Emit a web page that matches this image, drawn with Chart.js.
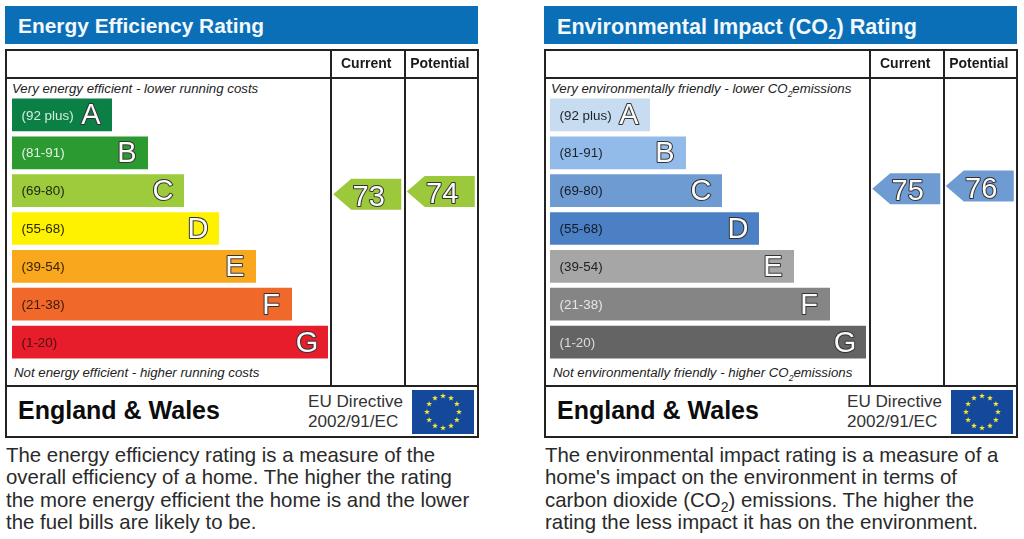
<!DOCTYPE html>
<html>
<head>
<meta charset="utf-8">
<title>EPC ratings</title>
<script src="https://cdn.jsdelivr.net/npm/chart.js@4"></script>
<style>
  html, body { margin: 0; background: #fff; }
  body { width: 1024px; height: 539px; overflow: hidden; position: relative; font-family: "Liberation Sans", Arial, sans-serif; color: #1c1c1c; filter: blur(0.4px); }
  .panel { position: absolute; top: 0; width: 490px; height: 539px; }
  .panel > * { position: absolute; }
  .header { left: 5px; top: 6px; width: 473px; height: 38px; background: #0a6fb7; }
  .title { left: 18px; top: 14px; font-weight: bold; color: #f2f8fc; white-space: nowrap; }
  .title sub { font-size: 15px; line-height: 0; }
  .line { background: #222; }
  .note { font-size: 13.25px; font-style: italic; white-space: nowrap; color: #222; }
  .note sub { font-size: 8.5px; line-height: 0; }
  .country { left: 18px; top: 396px; font-size: 25px; font-weight: bold; color: #0c0c0c; white-space: nowrap; }
  .directive { left: 308px; top: 392px; font-size: 17.1px; line-height: 20px; color: #333; white-space: nowrap; }
  .flag { left: 412px; top: 390px; width: 62px; height: 44px; }
  .blurb { left: 6px; top: 444px; font-size: 20.4px; line-height: 22.3px; color: #2a2a2a; white-space: nowrap; }
  .blurb sub { font-size: 14px; line-height: 0; }
  canvas { position: absolute; }
</style>
</head>
<body>
<script>
const bandLetters = ["A", "B", "C", "D", "E", "F", "G"];
const bandRanges = ["(92 plus)", "(81-91)", "(69-80)", "(55-68)", "(39-54)", "(21-38)", "(1-20)"];
const energyBandLengths = [100, 136, 172, 207, 244, 280, 316];
const co2BandLengths = [100, 136, 172, 209, 244, 280, 316];
const ratingColumns = ["Current", "Potential"];
const energyRatings = [73, 74];
const co2Ratings = [75, 76];

const energyColors = ["#0b8045", "#2b9a31", "#9dcb3c", "#fff200", "#f9a81d", "#f0682a", "#e71d2b"];
const co2Colors = ["#c7dcf1", "#92bbe9", "#6f9bd3", "#4c80c4", "#a6a6a6", "#858585", "#646464"];
const energyRangeText = ["#d8ece0", "#e3f2e3", "#1c2410", "#2a2a00", "#3a2405", "#3f1a08", "#4a0d10"];
const co2RangeText = ["#1c222a", "#1c222a", "#141a22", "#101a2a", "#222", "#e6e6e6", "#dcdcdc"];

// letters and range text sit on top of each bar
const bandLabels = {
  id: "bandLabels",
  afterDatasetsDraw(chart, args, opts) {
    const ctx = chart.ctx;
    chart.getDatasetMeta(0).data.forEach((bar, i) => {
      ctx.save();
      ctx.textBaseline = "middle";
      ctx.textAlign = "left";
      ctx.font = '13.4px "Liberation Sans"';
      ctx.fillStyle = opts.rangeText[i];
      ctx.fillText(bandRanges[i], bar.base + 9.5, bar.y + 1);
      ctx.textAlign = "center";
      ctx.font = '29px "Liberation Sans"';
      ctx.lineJoin = "round";
      ctx.lineWidth = 2;
      ctx.strokeStyle = "#333";
      ctx.strokeText(bandLetters[i], bar.x - 21, bar.y + 1.5);
      ctx.fillStyle = "#fbfbfb";
      ctx.fillText(bandLetters[i], bar.x - 21, bar.y + 1.5);
      ctx.restore();
    });
  },
};

// arrow shaped rating pointers, placed by the point elements
const ratingPointers = {
  id: "ratingPointers",
  afterDatasetsDraw(chart, args, opts) {
    const ctx = chart.ctx;
    const values = chart.data.datasets[0].data;
    chart.getDatasetMeta(0).data.forEach((pt, i) => {
      const l = pt.x - 34.5, r = pt.x + 33.5, h = 15.5;
      ctx.save();
      ctx.fillStyle = opts.color;
      ctx.beginPath();
      ctx.moveTo(l, pt.y);
      ctx.lineTo(l + 18, pt.y - h);
      ctx.lineTo(r, pt.y - h);
      ctx.lineTo(r, pt.y + h);
      ctx.lineTo(l + 18, pt.y + h);
      ctx.closePath();
      ctx.fill();
      ctx.textAlign = "center";
      ctx.textBaseline = "middle";
      ctx.font = '29px "Liberation Sans"';
      ctx.lineJoin = "round";
      ctx.lineWidth = 2;
      ctx.strokeStyle = "#333";
      ctx.strokeText(values[i], pt.x + 1, pt.y + 3.5);
      ctx.fillStyle = "#fbfbfb";
      ctx.fillText(values[i], pt.x + 1, pt.y + 3.5);
      ctx.restore();
    });
  },
};

function addCanvas(panel, left, top, width, height) {
  const c = document.createElement("canvas");
  c.style.left = left + "px";
  c.style.top = top + "px";
  c.style.width = width + "px";
  c.style.height = height + "px";
  c.width = width;
  c.height = height;
  panel.appendChild(c);
  return c;
}

function drawBands(panel, left, lengths, colors, rangeText) {
  new Chart(addCanvas(panel, left, 95.5, 317, 265), {
    type: "bar",
    plugins: [bandLabels],
    data: {
      labels: bandLetters,
      datasets: [{ data: lengths, backgroundColor: colors, barPercentage: 0.865, categoryPercentage: 1 }],
    },
    options: {
      indexAxis: "y",
      responsive: false,
      animation: false,
      events: [],
      layout: { padding: 0 },
      scales: {
        x: { display: false, min: 0, max: 317 },
        y: { display: false },
      },
      plugins: {
        legend: { display: false },
        tooltip: { enabled: false },
        bandLabels: { rangeText: rangeText },
      },
    },
  });
}

function drawRatings(panel, ratings, color) {
  new Chart(addCanvas(panel, 331, 50, 147, 336), {
    type: "line",
    plugins: [ratingPointers],
    data: {
      labels: ratingColumns,
      datasets: [{ data: ratings, showLine: false, pointRadius: 0 }],
    },
    options: {
      responsive: false,
      animation: false,
      events: [],
      layout: { padding: 0 },
      scales: {
        x: {
          position: "top",
          offset: true,
          grid: { display: false },
          border: { display: false },
          afterFit(scale) { scale.height = 28; },
          ticks: { color: "#1a1a1a", font: { family: "Liberation Sans", size: 14, weight: "bold" }, padding: -3, labelOffset: -1.5, maxRotation: 0 },
        },
        y: { display: false, min: 3.8, max: 115 },
      },
      plugins: {
        legend: { display: false },
        tooltip: { enabled: false },
        ratingPointers: { color: color },
      },
    },
  });
}

function rule(panel, left, top, width, height) {
  const d = document.createElement("div");
  d.className = "line";
  d.style.cssText = `left:${left}px;top:${top}px;width:${width}px;height:${height}px`;
  panel.appendChild(d);
}

function text(panel, cls, html, left, top) {
  const d = document.createElement("div");
  d.className = cls;
  d.innerHTML = html;
  if (left !== undefined) d.style.left = left + "px";
  if (top !== undefined) d.style.top = top + "px";
  panel.appendChild(d);
  return d;
}

function euFlag(panel) {
  const NS = "http://www.w3.org/2000/svg";
  const svg = document.createElementNS(NS, "svg");
  svg.setAttribute("class", "flag");
  svg.setAttribute("viewBox", "0 0 62 44");
  const bg = document.createElementNS(NS, "rect");
  bg.setAttribute("width", 62);
  bg.setAttribute("height", 44);
  bg.setAttribute("fill", "#14489b");
  svg.appendChild(bg);
  for (let i = 0; i < 12; i++) {
    const a = (i * Math.PI) / 6;
    const cx = 31 + 16 * Math.sin(a), cy = 22 - 16 * Math.cos(a);
    let pts = "";
    for (let k = 0; k < 10; k++) {
      const r = k % 2 ? 1.3 : 3, b = (k * Math.PI) / 5;
      pts += (cx + r * Math.sin(b)).toFixed(2) + "," + (cy - r * Math.cos(b)).toFixed(2) + " ";
    }
    const star = document.createElementNS(NS, "polygon");
    star.setAttribute("points", pts);
    star.setAttribute("fill", "#f2e33a");
    svg.appendChild(star);
  }
  panel.appendChild(svg);
}

function buildPanel(offset, cfg) {
  const panel = document.createElement("div");
  panel.className = "panel";
  panel.style.left = offset + "px";
  document.body.appendChild(panel);

  const head = document.createElement("div");
  head.className = "header";
  panel.appendChild(head);
  text(panel, "title", cfg.title).style.fontSize = cfg.titleSize + "px";

  rule(panel, 5, 49, 474, 2);
  rule(panel, 5, 436, 474, 2);
  rule(panel, 5, 49, 2, 389);
  rule(panel, 477, 49, 2, 389);
  rule(panel, 5, 77, 474, 2);
  rule(panel, 5, 385, 474, 2);
  rule(panel, 330, 49, 2, 337);
  rule(panel, 404, 49, 2, 337);

  text(panel, "note", cfg.top, 12, 81);
  text(panel, "note", cfg.bottom, 14, 365);
  text(panel, "country", "England &amp; Wales");
  text(panel, "directive", "EU Directive<br>2002/91/EC");
  euFlag(panel);
  text(panel, "blurb", cfg.blurb);

  drawBands(panel, cfg.bandLeft, cfg.lengths, cfg.colors, cfg.rangeText);
  drawRatings(panel, cfg.ratings, cfg.pointer);
}

buildPanel(0, {
  title: "Energy Efficiency Rating",
  titleSize: 20.9,
  top: "Very energy efficient - lower running costs",
  bottom: "Not energy efficient - higher running costs",
  blurb: "The energy efficiency rating is a measure of the<br>overall efficiency of a home. The higher the rating<br>the more energy efficient the home is and the lower<br>the fuel bills are likely to be.",
  bandLeft: 12,
  lengths: energyBandLengths,
  colors: energyColors,
  rangeText: energyRangeText,
  ratings: energyRatings,
  pointer: "#9cc83c",
});

buildPanel(539, {
  title: "Environmental Impact (CO<sub>2</sub>) Rating",
  titleSize: 21.6,
  top: "Very environmentally friendly - lower CO<sub>2</sub>emissions",
  bottom: "Not environmentally friendly - higher CO<sub>2</sub>emissions",
  blurb: "The environmental impact rating is a measure of a<br>home's impact on the environment in terms of<br>carbon dioxide (CO<sub>2</sub>) emissions. The higher the<br>rating the less impact it has on the environment.",
  bandLeft: 11,
  lengths: co2BandLengths,
  colors: co2Colors,
  rangeText: co2RangeText,
  ratings: co2Ratings,
  pointer: "#6f9bd3",
});
</script>
</body>
</html>
